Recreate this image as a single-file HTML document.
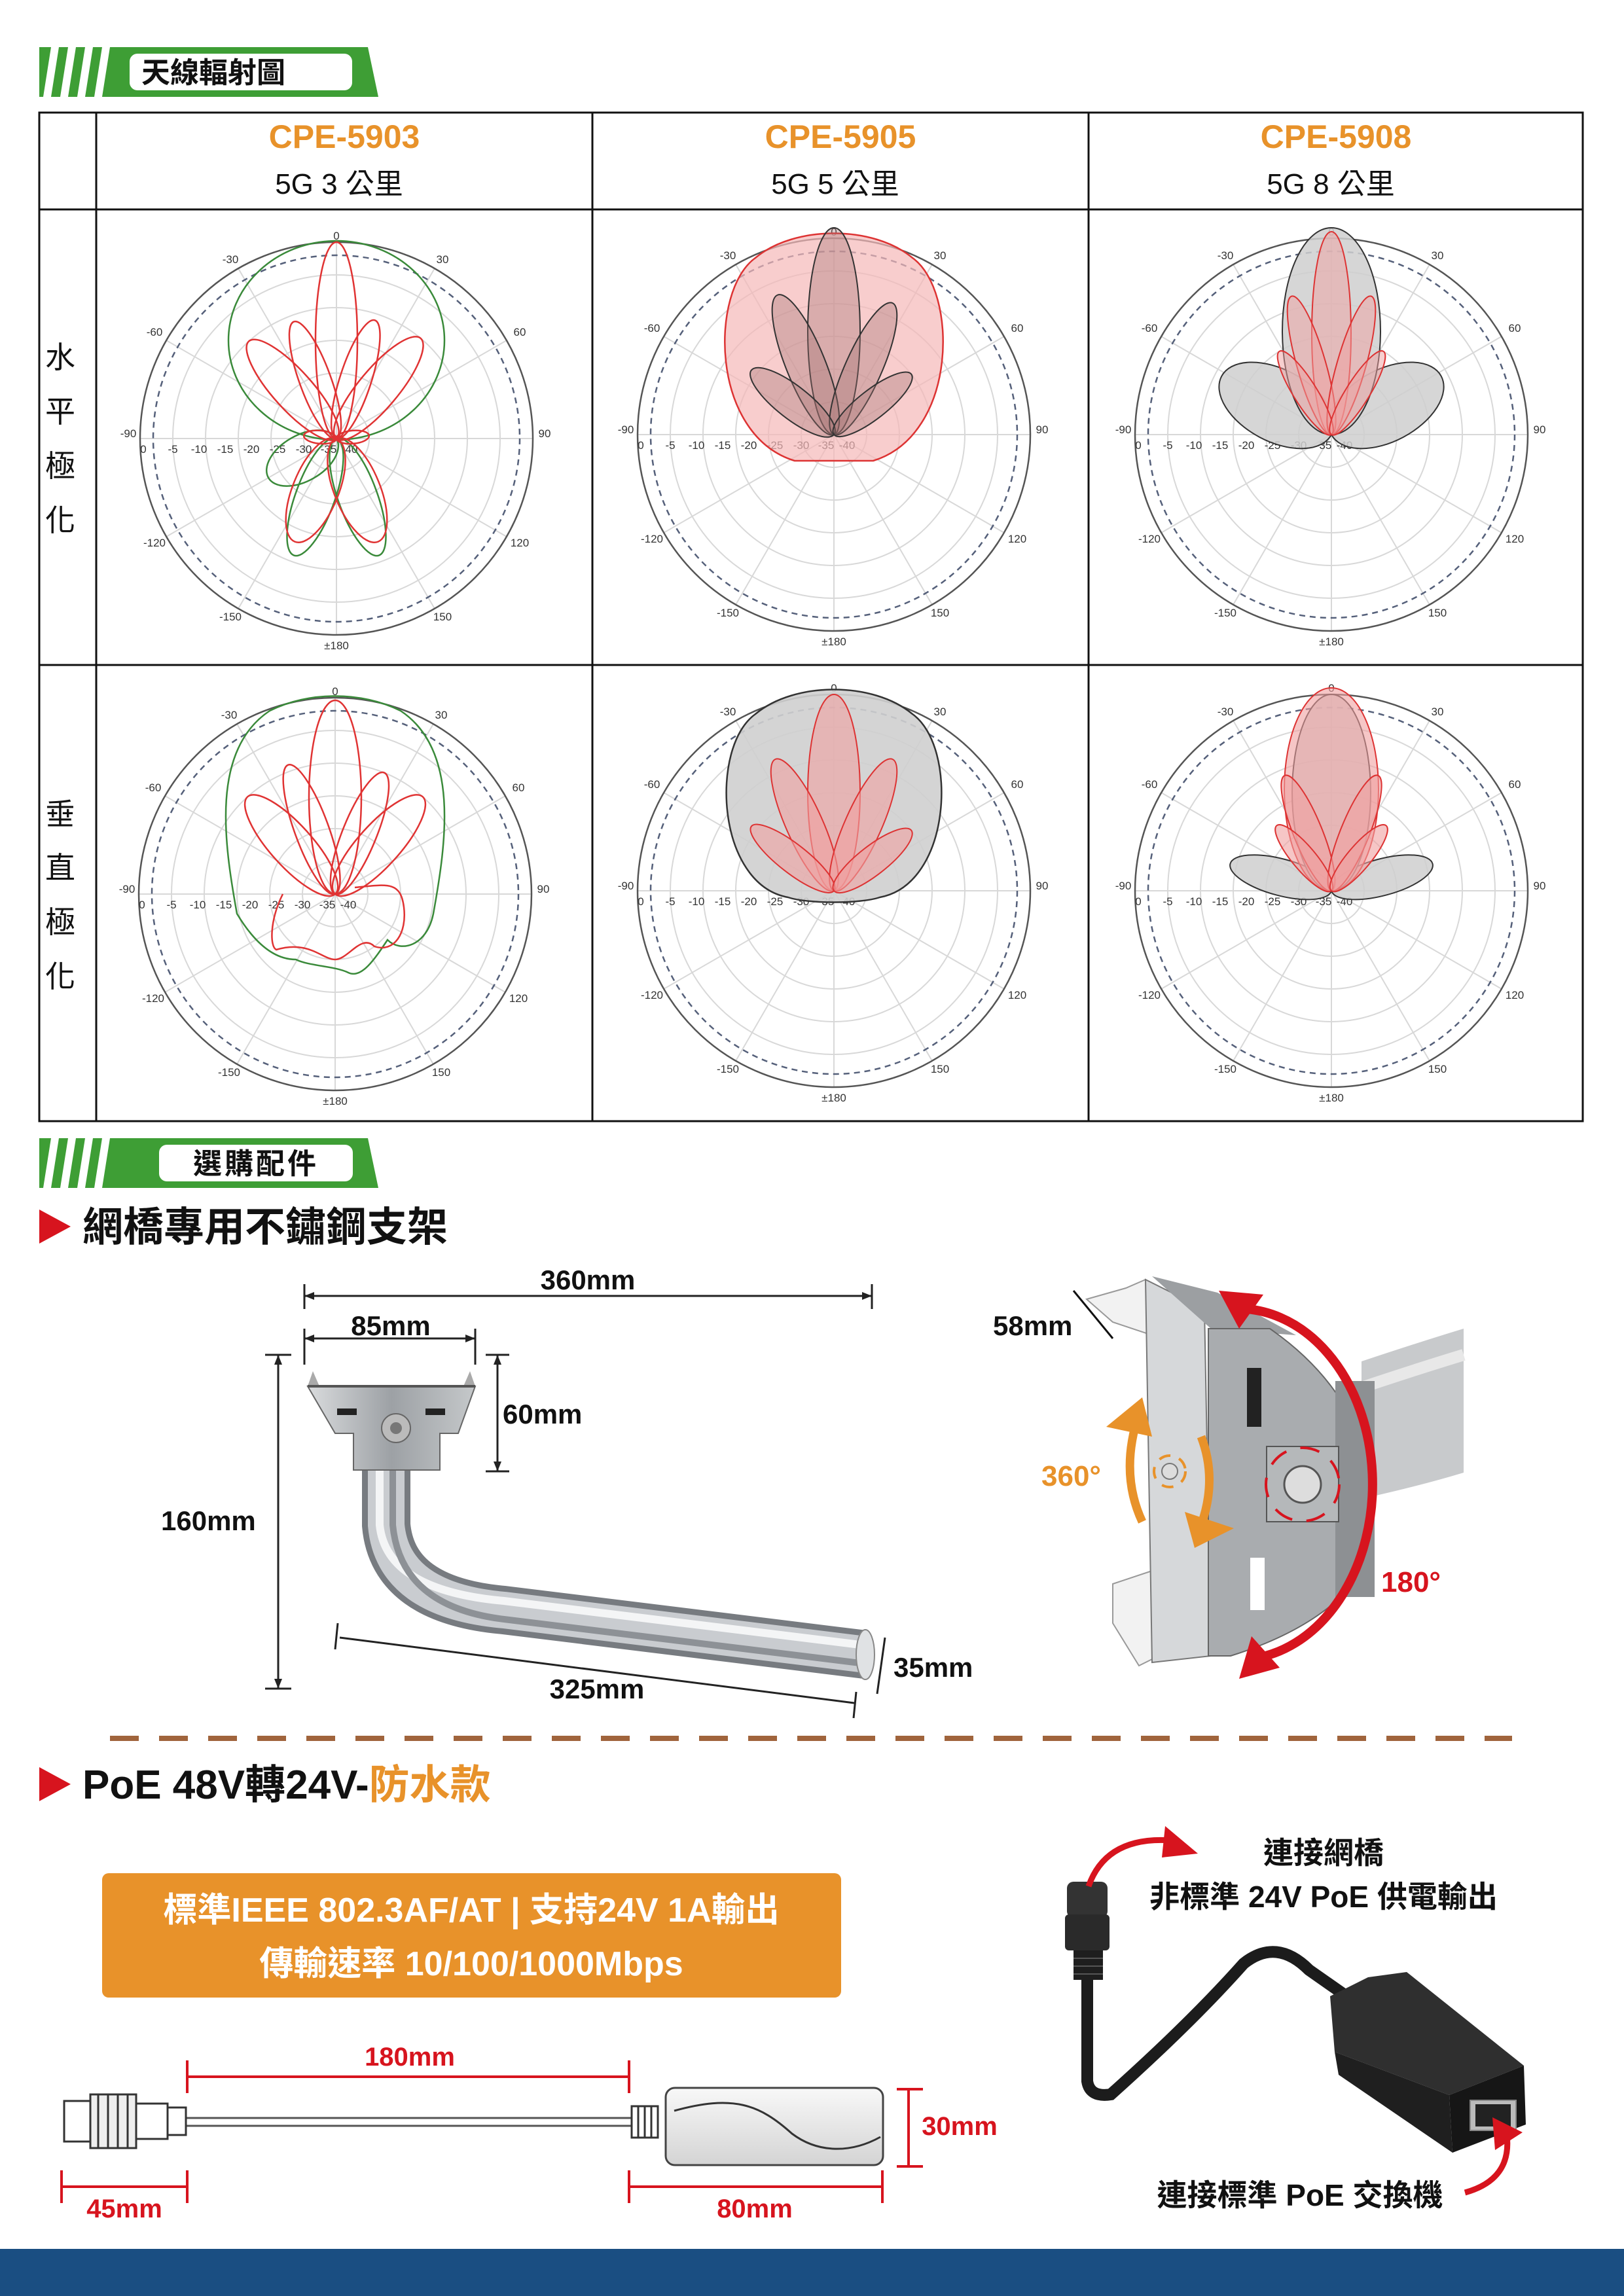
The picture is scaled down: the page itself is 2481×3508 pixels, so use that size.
<!DOCTYPE html>
<html><head><meta charset="utf-8">
<style>
html,body{margin:0;padding:0;background:#fff;}
svg{display:block;}
text{font-family:"Liberation Sans","Noto Sans CJK TC",sans-serif;}
.b{font-weight:bold;}
.ax{font-size:17px;fill:#333;text-anchor:middle;}
</style></head><body>
<svg width="2481" height="3508" viewBox="0 0 2481 3508" xmlns="http://www.w3.org/2000/svg">
<defs>
  <g id="grid">
    <g fill="none" stroke="#d8d8d8" stroke-width="2">
      <circle r="50"/><circle r="100"/><circle r="150"/><circle r="200"/><circle r="250"/>
      <line x1="-300" y1="0" x2="300" y2="0"/>
      <line x1="0" y1="-300" x2="0" y2="300"/>
      <line x1="-150" y1="-260" x2="150" y2="260"/>
      <line x1="150" y1="-260" x2="-150" y2="260"/>
      <line x1="-260" y1="-150" x2="260" y2="150"/>
      <line x1="260" y1="-150" x2="-260" y2="150"/>
    </g>
    <circle r="280" fill="none" stroke="#55607a" stroke-width="2.5" stroke-dasharray="9 7"/>
    <circle r="300" fill="none" stroke="#555" stroke-width="2.5"/>
    <text class="ax" x="0" y="-304">0</text>
    <text class="ax" x="-162" y="-268">-30</text>
    <text class="ax" x="162" y="-268">30</text>
    <text class="ax" x="-278" y="-157">-60</text>
    <text class="ax" x="280" y="-157">60</text>
    <text class="ax" x="-318" y="-2">-90</text>
    <text class="ax" x="318" y="-2">90</text>
    <text class="ax" x="-278" y="165">-120</text>
    <text class="ax" x="280" y="165">120</text>
    <text class="ax" x="-162" y="278">-150</text>
    <text class="ax" x="162" y="278">150</text>
    <text class="ax" x="0" y="322">±180</text>
    <text class="ax" x="-295" y="22">0</text>
    <text class="ax" x="-250" y="22">-5</text>
    <text class="ax" x="-210" y="22">-10</text>
    <text class="ax" x="-170" y="22">-15</text>
    <text class="ax" x="-130" y="22">-20</text>
    <text class="ax" x="-90" y="22">-25</text>
    <text class="ax" x="-50" y="22">-30</text>
    <text class="ax" x="-12" y="22">-35</text>
    <text class="ax" x="20" y="22">-40</text>
  </g>
  <linearGradient id="metal" x1="0" y1="0" x2="1" y2="0">
    <stop offset="0" stop-color="#d9dbdd"/><stop offset="0.5" stop-color="#9da1a5"/><stop offset="1" stop-color="#c5c8ca"/>
  </linearGradient>
  <linearGradient id="box" x1="0" y1="0" x2="0" y2="1">
    <stop offset="0" stop-color="#f8f8f8"/><stop offset="1" stop-color="#d4d4d4"/>
  </linearGradient>
</defs>

<!-- Banner 1 -->
<polygon points="60,72 78,72 66,148 60,148" fill="#3e9e35"/>
<polygon points="90,72 104,72 92,148 78,148" fill="#3e9e35"/>
<polygon points="116,72 130,72 118,148 104,148" fill="#3e9e35"/>
<polygon points="142,72 156,72 144,148 130,148" fill="#3e9e35"/>
<polygon points="168,72 562,72 578,148 156,148" fill="#3e9e35"/>
<rect x="198" y="82" width="340" height="56" rx="12" fill="#fff"/>
<text x="326" y="126" class="b" font-size="44" text-anchor="middle" fill="#111">天線輻射圖</text>

<!-- Table -->
<g stroke="#111" stroke-width="3" fill="none">
  <rect x="60" y="172" width="2358" height="1541"/>
  <line x1="60" y1="320" x2="2418" y2="320"/>
  <line x1="60" y1="1016" x2="2418" y2="1016"/>
  <line x1="147" y1="172" x2="147" y2="1713"/>
  <line x1="905" y1="172" x2="905" y2="1713"/>
  <line x1="1663" y1="172" x2="1663" y2="1713"/>
</g>
<g class="b" font-size="50" fill="#e8922a" text-anchor="middle">
  <text x="526" y="226">CPE-5903</text>
  <text x="1284" y="226">CPE-5905</text>
  <text x="2041" y="226">CPE-5908</text>
</g>
<g font-size="44" fill="#111" text-anchor="middle">
  <text x="518" y="296">5G 3 公里</text>
  <text x="1276" y="296">5G 5 公里</text>
  <text x="2033" y="296">5G 8 公里</text>
</g>
<g font-size="46" fill="#111" text-anchor="middle">
  <text x="92" y="562">水</text><text x="92" y="645">平</text><text x="92" y="728">極</text><text x="92" y="811">化</text>
  <text x="92" y="1260">垂</text><text x="92" y="1342">直</text><text x="92" y="1425">極</text><text x="92" y="1508">化</text>
</g>

<!-- Plot 1: 5903 H -->
<g transform="translate(514,670)">
  <use href="#grid"/>
  <g fill="none" stroke="#3a8a3a" stroke-width="2.5">
    <ellipse cx="0" cy="-150" rx="165" ry="152"/>
    <ellipse cx="0" cy="-95" rx="30" ry="95" transform="rotate(-160)"/>
    <ellipse cx="0" cy="-95" rx="30" ry="95" transform="rotate(160)"/>
    <ellipse cx="0" cy="-60" rx="35" ry="60" transform="rotate(-120)"/>
  </g>
  <g fill="none" stroke="#e03333" stroke-width="2.5">
    <ellipse cx="0" cy="-150" rx="32" ry="150"/>
    <ellipse cx="0" cy="-95" rx="24" ry="95" transform="rotate(-20)"/>
    <ellipse cx="0" cy="-95" rx="24" ry="95" transform="rotate(18)"/>
    <ellipse cx="0" cy="-100" rx="30" ry="100" transform="rotate(-42)"/>
    <ellipse cx="0" cy="-100" rx="30" ry="100" transform="rotate(40)"/>
    <ellipse cx="0" cy="-85" rx="35" ry="85" transform="rotate(-158)"/>
    <ellipse cx="0" cy="-85" rx="35" ry="85" transform="rotate(158)"/>
    <ellipse cx="0" cy="-25" rx="10" ry="25" transform="rotate(-85)"/>
    <ellipse cx="0" cy="-25" rx="10" ry="25" transform="rotate(85)"/>
  </g>
</g>
<!-- Plot 2: 5905 H -->
<g transform="translate(1274,664)">
  <use href="#grid"/>
  <path d="M-60,40 C-190,0 -190,-220 -120,-270 C-60,-320 60,-320 120,-270 C190,-220 190,0 60,40 Z" fill="#f5b8b8" fill-opacity="0.7" stroke="#d33" stroke-width="2.5"/>
  <g fill="#a07070" fill-opacity="0.35" stroke="#333" stroke-width="2">
    <ellipse cx="0" cy="-158" rx="40" ry="158"/>
    <ellipse cx="0" cy="-115" rx="30" ry="115" transform="rotate(-22)"/>
    <ellipse cx="0" cy="-110" rx="28" ry="110" transform="rotate(24)"/>
    <ellipse cx="0" cy="-80" rx="25" ry="80" transform="rotate(-52)"/>
    <ellipse cx="0" cy="-75" rx="22" ry="75" transform="rotate(52)"/>
  </g>
</g>
<!-- Plot 3: 5908 H -->
<g transform="translate(2034,664)">
  <use href="#grid"/>
  <g fill="#cfcfcf" fill-opacity="0.85" stroke="#333" stroke-width="2">
    <ellipse cx="0" cy="-95" rx="55" ry="95" transform="rotate(-62)"/>
    <ellipse cx="0" cy="-95" rx="55" ry="95" transform="rotate(62)"/>
    <ellipse cx="0" cy="-158" rx="75" ry="158"/>
  </g>
  <g fill="#f0a0a0" fill-opacity="0.5" stroke="#d33" stroke-width="2">
    <ellipse cx="0" cy="-155" rx="30" ry="155"/>
    <ellipse cx="0" cy="-110" rx="22" ry="110" transform="rotate(-16)"/>
    <ellipse cx="0" cy="-110" rx="22" ry="110" transform="rotate(16)"/>
    <ellipse cx="0" cy="-75" rx="18" ry="75" transform="rotate(-32)"/>
    <ellipse cx="0" cy="-75" rx="18" ry="75" transform="rotate(32)"/>
  </g>
</g>

<!-- Plot 4: 5903 V -->
<g transform="translate(512,1366)">
  <use href="#grid"/>
  <path d="M-150,30 C-170,-80 -190,-220 -100,-280 C-40,-310 40,-310 100,-280 C190,-220 170,-80 150,30 C140,80 100,90 80,70 C60,100 40,130 20,120 C0,110 -40,110 -60,100 C-90,100 -120,80 -150,30 Z" fill="none" stroke="#3a8a3a" stroke-width="2.5"/>
  <g fill="none" stroke="#e03333" stroke-width="2.5">
    <ellipse cx="0" cy="-148" rx="40" ry="148"/>
    <ellipse cx="0" cy="-105" rx="26" ry="105" transform="rotate(-20)"/>
    <ellipse cx="0" cy="-100" rx="26" ry="100" transform="rotate(22)"/>
    <ellipse cx="0" cy="-100" rx="32" ry="100" transform="rotate(-42)"/>
    <ellipse cx="0" cy="-100" rx="32" ry="100" transform="rotate(42)"/>
    <path d="M-80,0 C-100,40 -100,80 -90,85 C-40,70 -20,100 0,100 C20,100 40,60 60,80 C90,90 110,60 105,20 C100,-20 80,-15 30,-10"/>
  </g>
</g>
<!-- Plot 5: 5905 V -->
<g transform="translate(1274,1361)">
  <use href="#grid"/>
  <path d="M-70,10 C-180,-10 -190,-220 -120,-270 C-60,-320 60,-320 120,-270 C190,-220 180,-10 70,10 C40,20 -40,20 -70,10 Z" fill="#cfcfcf" fill-opacity="0.9" stroke="#333" stroke-width="2.5"/>
  <g fill="#f0a0a0" fill-opacity="0.6" stroke="#d33" stroke-width="2">
    <ellipse cx="0" cy="-150" rx="40" ry="150"/>
    <ellipse cx="0" cy="-110" rx="28" ry="110" transform="rotate(-24)"/>
    <ellipse cx="0" cy="-110" rx="28" ry="110" transform="rotate(24)"/>
    <ellipse cx="0" cy="-80" rx="22" ry="80" transform="rotate(-52)"/>
    <ellipse cx="0" cy="-75" rx="22" ry="75" transform="rotate(52)"/>
  </g>
</g>
<!-- Plot 6: 5908 V -->
<g transform="translate(2034,1361)">
  <use href="#grid"/>
  <g fill="#cfcfcf" fill-opacity="0.85" stroke="#333" stroke-width="2">
    <ellipse cx="0" cy="-80" rx="28" ry="80" transform="rotate(-75)"/>
    <ellipse cx="0" cy="-80" rx="28" ry="80" transform="rotate(75)"/>
    <ellipse cx="0" cy="-150" rx="60" ry="150"/>
  </g>
  <g fill="#f0a0a0" fill-opacity="0.6" stroke="#d33" stroke-width="2">
    <ellipse cx="0" cy="-155" rx="72" ry="155"/>
    <ellipse cx="0" cy="-95" rx="22" ry="95" transform="rotate(-22)"/>
    <ellipse cx="0" cy="-95" rx="22" ry="95" transform="rotate(22)"/>
    <ellipse cx="0" cy="-65" rx="18" ry="65" transform="rotate(-40)"/>
    <ellipse cx="0" cy="-65" rx="18" ry="65" transform="rotate(40)"/>
  </g>
</g>

<!-- Banner 2 -->
<polygon points="60,1739 78,1739 66,1815 60,1815" fill="#3e9e35"/>
<polygon points="90,1739 104,1739 92,1815 78,1815" fill="#3e9e35"/>
<polygon points="116,1739 130,1739 118,1815 104,1815" fill="#3e9e35"/>
<polygon points="142,1739 156,1739 144,1815 130,1815" fill="#3e9e35"/>
<polygon points="168,1739 562,1739 578,1815 156,1815" fill="#3e9e35"/>
<rect x="243" y="1749" width="296" height="56" rx="12" fill="#fff"/>
<text x="391" y="1793" class="b" font-size="44" text-anchor="middle" fill="#111" letter-spacing="4">選購配件</text>

<!-- Section title 1 -->
<polygon points="60,1848 108,1874 60,1900" fill="#d7141e"/>
<text x="126" y="1896" class="b" font-size="62" fill="#111">網橋專用不鏽鋼支架</text>

<!-- Bracket dims -->
<g stroke="#222" stroke-width="3" fill="none">
  <line x1="465" y1="1980" x2="1332" y2="1980"/>
  <line x1="465" y1="1962" x2="465" y2="2000"/><line x1="1332" y1="1962" x2="1332" y2="2000"/>
  <line x1="465" y1="2045" x2="726" y2="2045"/>
  <line x1="465" y1="2030" x2="465" y2="2085"/><line x1="726" y1="2030" x2="726" y2="2085"/>
  <line x1="760" y1="2070" x2="760" y2="2248"/>
  <line x1="742" y1="2070" x2="778" y2="2070"/><line x1="742" y1="2248" x2="778" y2="2248"/>
  <line x1="425" y1="2070" x2="425" y2="2580"/>
  <line x1="405" y1="2070" x2="445" y2="2070"/><line x1="405" y1="2580" x2="445" y2="2580"/>
  <line x1="519" y1="2502" x2="1305" y2="2602"/>
  <line x1="516" y1="2480" x2="512" y2="2520"/><line x1="1308" y1="2585" x2="1304" y2="2625"/>
  <line x1="1352" y1="2502" x2="1340" y2="2588"/>
</g>
<g fill="#222"><polygon points="465,1980 480,1974 480,1986"/><polygon points="1332,1980 1317,1974 1317,1986"/>
<polygon points="465,2045 480,2039 480,2051"/><polygon points="726,2045 711,2039 711,2051"/>
<polygon points="760,2070 754,2085 766,2085"/><polygon points="760,2248 754,2233 766,2233"/>
<polygon points="425,2070 419,2085 431,2085"/><polygon points="425,2580 419,2565 431,2565"/></g>
<g class="b" font-size="42" fill="#111">
  <text x="898" y="1970" text-anchor="middle">360mm</text>
  <text x="597" y="2040" text-anchor="middle">85mm</text>
  <text x="768" y="2175">60mm</text>
  <text x="246" y="2338">160mm</text>
  <text x="912" y="2595" text-anchor="middle">325mm</text>
  <text x="1365" y="2562">35mm</text>
  <text x="1517" y="2040">58mm</text>
</g>
<!-- bracket drawing -->
<path d="M590,2230 L590,2330 Q600,2445 770,2460 L1322,2528" fill="none" stroke="#777b80" stroke-width="74"/>
<path d="M590,2230 L590,2330 Q600,2445 770,2460 L1322,2528" fill="none" stroke="#c9ccd0" stroke-width="56"/>
<path d="M580,2230 L580,2330 Q590,2430 770,2446 L1322,2514" fill="none" stroke="#f4f5f6" stroke-width="12"/>
<path d="M600,2240 L600,2330 Q612,2455 770,2474 L1322,2542" fill="none" stroke="#8d9196" stroke-width="10"/>
<ellipse cx="1322" cy="2528" rx="14" ry="38" fill="#e0e2e4" stroke="#888" stroke-width="2"/>
<polygon points="470,2118 726,2118 700,2190 672,2190 672,2246 540,2246 540,2190 512,2190" fill="url(#metal)" stroke="#666" stroke-width="2"/>
<polygon points="470,2118 478,2095 488,2118" fill="#aaa"/><polygon points="718,2095 726,2118 708,2118" fill="#aaa"/>
<line x1="470" y1="2118" x2="726" y2="2118" stroke="#555" stroke-width="4"/>
<rect x="515" y="2152" width="30" height="10" fill="#222"/><rect x="650" y="2152" width="30" height="10" fill="#222"/>
<circle cx="605" cy="2182" r="22" fill="#bbb" stroke="#666" stroke-width="2"/><circle cx="605" cy="2182" r="9" fill="#777"/>

<!-- Right photo (swivel mount) -->
<path d="M2080,2080 Q2170,2050 2236,2030 L2236,2250 Q2170,2270 2080,2290 Z" fill="#c8cacc"/>
<path d="M2080,2120 Q2170,2090 2236,2070" stroke="#e8e8e8" stroke-width="18" fill="none"/>
<polygon points="1660,1985 1720,1968 1750,1955 1770,1990 1760,2040 1700,2020" fill="#f2f2f2" stroke="#999" stroke-width="2"/>
<polygon points="1700,2420 1760,2400 1780,2520 1760,2535 1740,2545 1700,2480" fill="#f2f2f2" stroke="#999" stroke-width="2"/>
<polygon points="1750,1955 1840,2000 1850,2530 1760,2540" fill="#d6d8da" stroke="#777" stroke-width="2"/>
<polygon points="1760,1950 1860,1975 1980,2040 1850,2030" fill="#9c9fa2"/>
<path d="M1846,2030 L1940,2030 Q2070,2120 2096,2260 L2096,2380 Q2040,2480 1880,2530 L1846,2530 Z" fill="#a9acaf" stroke="#666" stroke-width="2"/>
<rect x="2040" y="2110" width="60" height="330" fill="#8d9093"/>
<rect x="1905" y="2090" width="22" height="90" fill="#222"/>
<rect x="1910" y="2380" width="22" height="80" fill="#fff"/>
<rect x="1935" y="2210" width="110" height="115" fill="#b5b8ba" stroke="#555" stroke-width="2"/>
<circle cx="1990" cy="2268" r="28" fill="#ddd" stroke="#555" stroke-width="3"/>
<circle cx="1990" cy="2268" r="56" fill="none" stroke="#d7141e" stroke-width="4" stroke-dasharray="30 22"/>
<circle cx="1787" cy="2248" r="24" fill="none" stroke="#e8922a" stroke-width="4" stroke-dasharray="18 14"/>
<circle cx="1787" cy="2248" r="12" fill="#ddd" stroke="#777" stroke-width="2"/>
<!-- red 180 arrow -->
<path d="M1880,2000 A205,268 0 0 1 1905,2535" fill="none" stroke="#d7141e" stroke-width="14"/>
<polygon points="1862,1972 1930,1978 1893,2030" fill="#d7141e"/>
<polygon points="1893,2565 1912,2500 1955,2548" fill="#d7141e"/>
<!-- orange 360 arrows -->
<path d="M1745,2325 Q1710,2250 1740,2160" fill="none" stroke="#e8922a" stroke-width="13"/>
<polygon points="1690,2180 1745,2135 1760,2195" fill="#e8922a"/>
<path d="M1835,2195 Q1860,2260 1835,2330" fill="none" stroke="#e8922a" stroke-width="13"/>
<polygon points="1825,2365 1810,2310 1885,2335" fill="#e8922a"/>
<line x1="1640" y1="1972" x2="1700" y2="2045" stroke="#111" stroke-width="3"/>
<text x="1591" y="2270" class="b" font-size="44" fill="#e8922a">360°</text>
<text x="2110" y="2432" class="b" font-size="44" fill="#d7141e">180°</text>

<!-- dashed separator -->
<line x1="168" y1="2656" x2="2310" y2="2656" stroke="#a0643c" stroke-width="8" stroke-dasharray="44 31"/>

<!-- Section title 2 -->
<polygon points="60,2700 108,2726 60,2752" fill="#d7141e"/>
<text x="126" y="2748" class="b" font-size="62" fill="#111">PoE 48V轉24V-<tspan fill="#e8922a">防水款</tspan></text>

<!-- orange box -->
<rect x="156" y="2862" width="1129" height="190" rx="10" fill="#e8922a"/>
<g class="b" font-size="52" fill="#fff" text-anchor="middle">
  <text x="720" y="2936">標準IEEE 802.3AF/AT | 支持24V 1A輸出</text>
  <text x="720" y="3018">傳輸速率 10/100/1000Mbps</text>
</g>

<!-- cable drawing -->
<g stroke="#d7141e" stroke-width="4" fill="none">
  <line x1="286" y1="3173" x2="961" y2="3173"/><line x1="286" y1="3148" x2="286" y2="3198"/><line x1="961" y1="3148" x2="961" y2="3198"/>
  <line x1="94" y1="3341" x2="286" y2="3341"/><line x1="94" y1="3316" x2="94" y2="3366"/><line x1="286" y1="3316" x2="286" y2="3366"/>
  <line x1="961" y1="3341" x2="1348" y2="3341"/><line x1="961" y1="3316" x2="961" y2="3366"/><line x1="1348" y1="3316" x2="1348" y2="3366"/>
  <line x1="1388" y1="3192" x2="1388" y2="3310"/><line x1="1370" y1="3192" x2="1410" y2="3192"/><line x1="1370" y1="3310" x2="1410" y2="3310"/>
</g>
<g class="b" font-size="40" fill="#d7141e" text-anchor="middle">
  <text x="626" y="3156">180mm</text>
  <text x="190" y="3388">45mm</text>
  <text x="1153" y="3388">80mm</text>
  <text x="1466" y="3262">30mm</text>
</g>
<rect x="280" y="3236" width="690" height="12" fill="#fff" stroke="#555" stroke-width="3"/>
<rect x="98" y="3210" width="40" height="62" fill="#fff" stroke="#333" stroke-width="3"/>
<rect x="138" y="3200" width="70" height="82" fill="#eee" stroke="#333" stroke-width="3"/>
<g stroke="#333" stroke-width="3"><line x1="150" y1="3200" x2="150" y2="3282"/><line x1="165" y1="3200" x2="165" y2="3282"/><line x1="180" y1="3200" x2="180" y2="3282"/><line x1="195" y1="3200" x2="195" y2="3282"/></g>
<rect x="208" y="3214" width="48" height="54" fill="#fff" stroke="#333" stroke-width="3"/>
<rect x="256" y="3220" width="28" height="42" fill="#fff" stroke="#333" stroke-width="3"/>
<rect x="965" y="3218" width="40" height="48" fill="#fff" stroke="#333" stroke-width="3"/>
<g stroke="#333" stroke-width="3"><line x1="975" y1="3218" x2="975" y2="3266"/><line x1="985" y1="3218" x2="985" y2="3266"/><line x1="995" y1="3218" x2="995" y2="3266"/></g>
<rect x="1017" y="3190" width="332" height="118" rx="14" fill="url(#box)" stroke="#444" stroke-width="3"/>
<path d="M1030,3225 C1120,3200 1160,3215 1210,3260 C1250,3290 1300,3290 1345,3265" fill="none" stroke="#333" stroke-width="3"/>

<!-- PoE adapter photo -->
<path d="M1661,3020 L1661,3180 Q1665,3205 1697,3200 Q1820,3090 1900,3000 Q1950,2960 2000,3010 L2050,3045" fill="none" stroke="#1c1c1c" stroke-width="18" stroke-linecap="round"/>
<rect x="1630" y="2875" width="62" height="55" rx="10" fill="#333"/>
<rect x="1627" y="2925" width="68" height="55" rx="6" fill="#2a2a2a"/>
<rect x="1640" y="2980" width="45" height="45" fill="#1e1e1e"/>
<g stroke="#555" stroke-width="2"><line x1="1640" y1="2992" x2="1685" y2="2992"/><line x1="1640" y1="3004" x2="1685" y2="3004"/><line x1="1640" y1="3016" x2="1685" y2="3016"/></g>
<polygon points="2032,3050 2090,3021 2149,3013 2328,3156 2214,3201 2039,3135" fill="#2f2f2f"/>
<polygon points="2039,3135 2214,3201 2219,3289 2045,3170" fill="#1f1f1f"/>
<polygon points="2214,3201 2328,3156 2331,3246 2219,3289" fill="#161616"/>
<rect x="2246" y="3209" width="70" height="46" fill="#bbb" stroke="#888" stroke-width="2"/>
<rect x="2254" y="3215" width="54" height="34" fill="#222"/>
<!-- red arrows -->
<path d="M1663,2882 Q1690,2805 1790,2812" fill="none" stroke="#d7141e" stroke-width="9"/>
<polygon points="1780,2790 1830,2832 1775,2838" fill="#d7141e"/>
<path d="M2238,3350 Q2310,3330 2302,3262" fill="none" stroke="#d7141e" stroke-width="9"/>
<polygon points="2280,3235 2326,3258 2284,3285" fill="#d7141e"/>
<g class="b" font-size="46" fill="#111" text-anchor="middle">
  <text x="2022" y="2847">連接網橋</text>
  <text x="2022" y="2914">非標準 24V PoE 供電輸出</text>
  <text x="1986" y="3370">連接標準 PoE 交換機</text>
</g>

<!-- bottom bar -->
<rect x="0" y="3436" width="2481" height="72" fill="#1a4e82"/>
</svg>
</body></html>
